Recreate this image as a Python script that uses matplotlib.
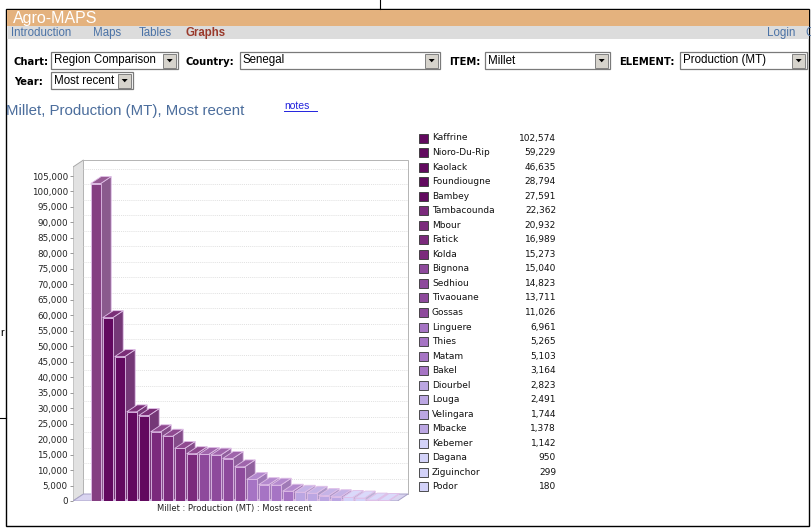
import numpy as np
import matplotlib.pyplot as plt
from matplotlib.patches import Rectangle, Polygon
from matplotlib.colors import to_rgb

# data
regions = ["Kaffrine", "Nioro-Du-Rip", "Kaolack", "Foundiougne", "Bambey",
           "Tambacounda", "Mbour", "Fatick", "Kolda", "Bignona", "Sedhiou",
           "Tivaouane", "Gossas", "Linguere", "Thies", "Matam", "Bakel",
           "Diourbel", "Louga", "Velingara", "Mbacke", "Kebemer", "Dagana",
           "Ziguinchor", "Podor"]
production = [102574, 59229, 46635, 28794, 27591, 22362, 20932, 16989, 15273,
              15040, 14823, 13711, 11026, 6961, 5265, 5103, 3164, 2823, 2491,
              1744, 1378, 1142, 950, 299, 180]
y_ticks = list(range(0, 105001, 5000))
page_title = "Millet, Production (MT), Most recent"
axis_label = "Millet : Production (MT) : Most recent"
nav_links = ["Introduction", "Maps", "Tables", "Graphs"]

# colour of each region (groups of the legend)
group_cols = ["#62095f", "#7b2a7c", "#8e4a9c", "#a674c4", "#bba6e2", "#d3d2f9"]
group_of = [0]*5 + [1]*4 + [2]*4 + [3]*4 + [4]*4 + [5]*4
colors = [group_cols[g] for g in group_of]

W, H = 812, 529


def mix(c, other, t):
    c = np.array(to_rgb(c))
    return tuple(c*(1-t) + np.array(other)*t)


def frac(l, t, r, b):
    return [l/W, 1 - b/H, (r-l)/W, (b-t)/H]


fig = plt.figure(figsize=(W/100, H/100), dpi=100)
pg = fig.add_axes([0, 0, 1, 1])
pg.set_xlim(0, W)
pg.set_ylim(H, 0)
pg.axis("off")

# ---- page chrome ----
pg.plot([380, 380], [0, 9], color="black", lw=0.8)
pg.plot([0, 6], [418, 418], color="black", lw=0.8)
pg.text(0, 333, "r", fontsize=8, family="Liberation Sans", va="center")
pg.add_patch(Rectangle((6.5, 9), 803, 517, fc="white", ec="black", lw=1.0))
pg.add_patch(Rectangle((7, 9.5), 802, 16.5, fc="#e4b27e", ec="none"))
pg.add_patch(Rectangle((7, 26), 802, 13, fc="#dcdcdc", ec="none"))
pg.text(13, 18, "Agro-MAPS", color="white", fontsize=11.5,
        family="Liberation Sans", va="center")

nav_x = [11, 93, 139, 186]
for lbl, x in zip(nav_links, nav_x):
    bold = lbl == "Graphs"
    pg.text(x, 33, lbl, fontsize=8.3, family="Liberation Sans",
            color="#9a3a2c" if bold else "#4a72a6",
            weight="bold" if bold else "normal", va="center")
pg.text(767, 33, "Login", fontsize=8.3, family="Liberation Sans",
        color="#4a72a6", va="center")
pg.text(805, 33, "C", fontsize=8.3, family="Liberation Sans",
        color="#4a72a6", va="center", clip_on=True)


def select(x0, x1, y0, y1, txt):
    pg.add_patch(Rectangle((x0, y0), x1-x0, y1-y0, fc="white", ec="#7a7a7a", lw=0.9))
    pg.add_patch(Rectangle((x1-15, y0+1.5), 13.5, y1-y0-3, fc="#d6d3cc",
                           ec="#808080", lw=0.7))
    cx, cy = x1-8.3, (y0+y1)/2
    pg.add_patch(Polygon([(cx-3, cy-1.5), (cx+3, cy-1.5), (cx, cy+1.8)],
                         fc="black", ec="none"))
    pg.text(x0+3, cy, txt, fontsize=8.3, family="Liberation Sans", va="center")


for lbl, x, y in [("Chart:", 14, 62), ("Country:", 186, 62), ("ITEM:", 449, 62),
                  ("ELEMENT:", 619, 62), ("Year:", 14, 82)]:
    pg.text(x, y, lbl, fontsize=7.2, family="DejaVu Sans", weight="bold",
            va="center")
select(51, 178, 52, 69, "Region Comparison")
select(240, 440, 52, 69, "Senegal")
select(485, 610, 52, 69, "Millet")
select(680, 807, 52, 69, "Production (MT)")
select(51, 133, 72, 89, "Most recent")

pg.text(6, 111.5, page_title, fontsize=10.8, family="Liberation Sans",
        color="#4b6d9c", va="center")
pg.text(284, 106, "notes", fontsize=7.5, family="Liberation Sans",
        color="#2222dd", va="center")
pg.plot([284, 317], [111, 111], color="#2222dd", lw=0.7)

# ---- legend ----
for i, (name, val) in enumerate(zip(regions, production)):
    y = 138 + i*14.54
    pg.add_patch(Rectangle((419, y-4.5), 9, 9, fc=colors[i], ec="#333333", lw=0.6))
    pg.text(432, y, name, fontsize=6.5, family="DejaVu Sans", va="center",
            color="#111111")
    pg.text(556, y, f"{val:,}", fontsize=6.5, family="DejaVu Sans",
            va="center", ha="right", color="#111111")

pg.text(235, 508, axis_label, fontsize=6, family="DejaVu Sans",
        ha="center", va="center", color="#222222")

# ---- 3d bar chart ----
ax = fig.add_axes(frac(73, 158, 412, 501))
PX = 12.0
x_left = -(95.7-73)/PX
x_right = x_left + (412-73)/PX
ymax = (501-158)/325*105000
ax.set_xlim(x_left, x_right)
ax.set_ylim(0, ymax)
ax.patch.set_alpha(0)
for s in ax.spines.values():
    s.set_visible(False)

FX = 10.5/PX
FY = 7/325*105000
xb = (408-73)/PX + x_left
wall_top = (501-160)/325*105000

ax.add_patch(Polygon([(x_left, 0), (x_left+FX, FY), (x_left+FX, wall_top),
                      (x_left, wall_top-FY)], fc="#e2e2e2", ec="#a8a8a8",
                     lw=0.7, zorder=0.5))
ax.add_patch(Rectangle((x_left+FX, FY), xb-x_left-FX, wall_top-FY, fc="white",
                       ec="#b4b4b4", lw=0.7, zorder=0.5))
ax.add_patch(Polygon([(x_left, 0), (xb-FX, 0), (xb, FY), (x_left+FX, FY)],
                     fc="#d9d4f0", ec="#a8a2c8", lw=0.7, zorder=0.6))
for t in y_ticks[1:]:
    ax.plot([x_left+FX, xb], [t+FY, t+FY], color="#d6d6d6", lw=0.5,
            ls=(0, (1.5, 1.5)), zorder=0.7)

BW = 10/PX
edge = "#e0bfe8"
for i, v in enumerate(production):
    front = colors[i]
    if i == 0:
        front = mix(front, (1, 1, 1), 0.22)
    side = mix(front, (0.58, 0.52, 0.62), 0.38)
    top = mix(front, (1, 1, 1), 0.15)
    xl, xr = i - BW/2, i + BW/2
    z = 2 + i*0.01
    ax.add_patch(Polygon([(xr, 0), (xr+FX, FY), (xr+FX, v+FY), (xr, v)],
                         fc=side, ec=edge, lw=0.6, zorder=z))
    ax.add_patch(Polygon([(xl, v), (xr, v), (xr+FX, v+FY), (xl+FX, v+FY)],
                         fc=top, ec=edge, lw=0.6, zorder=z))
    ax.bar(i, v, width=BW, color=front, edgecolor=edge, lw=0.6, zorder=z)

ax.set_xticks([])
ax.set_yticks(y_ticks)
ax.set_yticklabels([f"{t:,}" for t in y_ticks])
ax.tick_params(axis="y", length=2.2, width=0.6, color="#888888", pad=1.5,
               labelsize=6.3, labelcolor="#222222")

fig.savefig("out.png", dpi=100)
